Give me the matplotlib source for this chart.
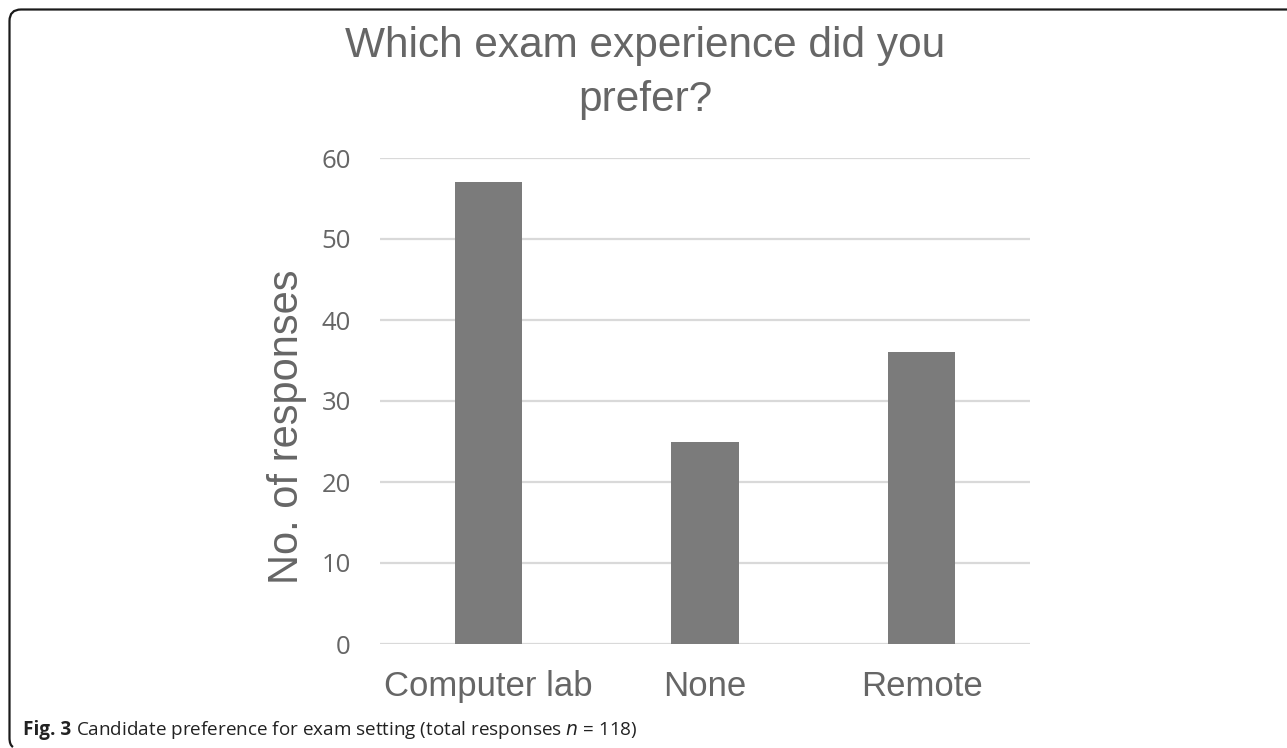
import matplotlib
matplotlib.use("Agg")
import matplotlib.pyplot as plt
from matplotlib.path import Path
from matplotlib.patches import PathPatch

categories = ["Computer lab", "None", "Remote"]
responses = [57, 25, 36]
yticks = [0, 10, 20, 30, 40, 50, 60]
title = "Which exam experience did you\nprefer?"
ylabel = "No. of responses"
caption_bold = "Fig. 3"
caption_rest = "Candidate preference for exam setting (total responses $n$ = 118)"

W, H = 1287, 748
fig = plt.figure(figsize=(W / 100, H / 100), dpi=100)
fig.patch.set_facecolor("white")

def fx(px):
    return px / W

def fy(py):
    return 1 - py / H

ax = fig.add_axes([fx(380), fy(644), fx(1030) - fx(380), fy(158) - fy(644)])
ax.bar(range(len(categories)), responses, width=0.31, color="#7b7b7b", zorder=3)
ax.set_xlim(-0.5, len(categories) - 0.5)
ax.set_ylim(0, 60)
ax.set_yticks(yticks)
ax.set_xticks(range(len(categories)))
ax.set_xticklabels(categories, fontfamily="Liberation Sans", fontsize=25, color="#666666")
ax.set_yticklabels([str(t) for t in yticks], fontfamily="Open Sans", fontsize=18.5, color="#666666")
ax.tick_params(axis="both", length=0)
ax.tick_params(axis="y", pad=21)
ax.tick_params(axis="x", pad=19)
ax.grid(axis="y", color="#d9d9d9", linewidth=1.6, zorder=0)
for s in ax.spines.values():
    s.set_visible(False)

fig.text(fx(287), fy(427), ylabel, rotation=90, ha="center", va="center",
         fontfamily="Liberation Sans", fontsize=30, color="#666666")

fig.text(fx(645), fy(73), title, ha="center", va="center", fontfamily="Liberation Sans",
         fontsize=30.5, color="#666666", linespacing=1.42)

# caption
t1 = fig.text(fx(23), fy(730), caption_bold, ha="left", va="center", fontfamily="Open Sans",
              fontsize=13.6, fontweight="bold", color="#222222")
fig.canvas.draw()
bb = t1.get_window_extent(renderer=fig.canvas.get_renderer())
fig.text(fx(bb.x1 + 5), fy(730), caption_rest,
         ha="left", va="center", fontfamily="Open Sans", fontsize=13.6, color="#222222")

# border (top and left with rounded corner)
verts = [(fx(1287), fy(9.5)), (fx(21), fy(9.5)), (fx(9.5), fy(9.5)), (fx(9.5), fy(21)),
         (fx(9.5), fy(738)), (fx(9.5), fy(745)), (fx(13), fy(747))]
codes = [Path.MOVETO, Path.LINETO, Path.CURVE3, Path.CURVE3, Path.LINETO, Path.CURVE3, Path.CURVE3]
fig.patches.append(PathPatch(Path(verts, codes), transform=fig.transFigure, fill=False,
                             edgecolor="#1a1a1a", linewidth=1.6))

fig.savefig("out.png", dpi=100)
